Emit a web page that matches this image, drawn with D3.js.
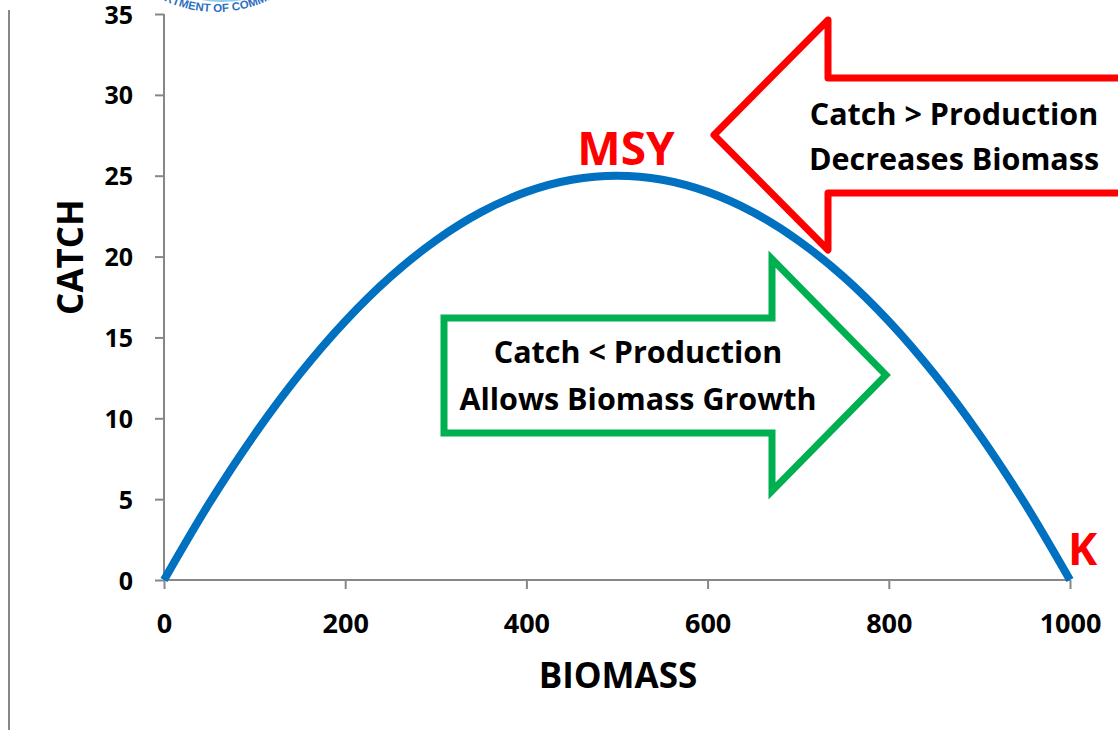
<!DOCTYPE html>
<html>
<head>
<meta charset="utf-8">
<script src="https://cdn.jsdelivr.net/npm/d3@7"></script>
<style>
  html, body { margin: 0; padding: 0; background: #fff; }
  svg { display: block; }
  text { font-family: "Open Sans", "Noto Sans", sans-serif; font-weight: 700; }
</style>
</head>
<body>
<svg id="chart" width="1118" height="730"></svg>
<script>
// Surplus production curve: catch versus biomass
const biomass = [0, 50, 100, 150, 200, 250, 300, 350, 400, 450, 500,
                 550, 600, 650, 700, 750, 800, 850, 900, 950, 1000];
const catchValues = [0, 4.75, 9, 12.75, 16, 18.75, 21, 22.75, 24, 24.75, 25,
                     24.75, 24, 22.75, 21, 18.75, 16, 12.75, 9, 4.75, 0];
const xTicks = [0, 200, 400, 600, 800, 1000];
const yTicks = [0, 5, 10, 15, 20, 25, 30, 35];
const msyPoint = { biomass: 500, catch: 25 };
const kPoint = { biomass: 1000, catch: 0 };

const svg = d3.select("#chart");
const axisColor = "#878787";

const x = d3.scaleLinear().domain([0, 1000]).range([164, 1070]);
const y = d3.scaleLinear().domain([0, 35]).range([580, 14]);

// page rule on the left
svg.append("line")
  .attr("x1", 9).attr("x2", 9).attr("y1", 10).attr("y2", 730)
  .attr("stroke", axisColor).attr("stroke-width", 2);

// seal lettering peeking in at the top edge
const sealCx = 216, sealCy = -110, sealR = 122;
const seal = svg.append("g");
seal.append("circle")
  .attr("cx", sealCx + 6).attr("cy", sealCy).attr("r", sealR - 10)
  .attr("fill", "#8fd0f2");
const sealPath = d3.path();
sealPath.arc(sealCx, sealCy, sealR, Math.PI * 0.9, Math.PI * 0.1, true);
seal.append("path").attr("id", "sealArc").attr("d", sealPath.toString()).attr("fill", "none");
seal.append("text")
  .attr("fill", "#2f6fbf")
  .style("font-family", "'Liberation Sans', sans-serif")
  .style("font-weight", "700")
  .style("font-size", "11.5px")
  .append("textPath")
  .attr("href", "#sealArc")
  .attr("startOffset", "50%")
  .attr("text-anchor", "middle")
  .text("DEPARTMENT OF COMMERCE");

// y axis
const yAxis = svg.append("g")
  .attr("transform", `translate(${x(0)},0)`)
  .call(d3.axisLeft(y).tickValues(yTicks).tickSize(9).tickPadding(22).tickFormat(d3.format("d")));
yAxis.select(".domain").attr("stroke", axisColor).attr("stroke-width", 2)
  .attr("d", `M0,${y(35)}V${y(0)}`);
yAxis.selectAll(".tick line").attr("stroke", axisColor).attr("stroke-width", 2);
yAxis.selectAll(".tick text").attr("fill", "#000")
  .style("font-size", "25px").style("font-family", "'Open Sans', sans-serif").style("font-weight", "700")
  .attr("dy", "0.36em");

// x axis
const xAxis = svg.append("g")
  .attr("transform", `translate(0,${y(0)})`)
  .call(d3.axisBottom(x).tickValues(xTicks).tickSize(9).tickFormat(d3.format("d")));
xAxis.select(".domain").attr("stroke", axisColor).attr("stroke-width", 2)
  .attr("d", `M${x(0)},0H${x(1000)}`);
xAxis.selectAll(".tick line").attr("stroke", axisColor).attr("stroke-width", 2);
xAxis.selectAll(".tick text").attr("fill", "#000")
  .attr("y", 53).attr("dy", 0)
  .style("font-size", "27px").style("font-family", "'Open Sans', sans-serif").style("font-weight", "700");

// axis titles
svg.append("text")
  .attr("x", 618).attr("y", 688)
  .attr("text-anchor", "middle")
  .style("font-size", "35px")
  .text("BIOMASS");
svg.append("text")
  .attr("transform", `translate(83,257) rotate(-90)`)
  .attr("text-anchor", "middle")
  .style("font-size", "35px")
  .text("CATCH");

// production curve
const line = d3.line()
  .x((d, i) => x(biomass[i]))
  .y(d => y(d))
  .curve(d3.curveCatmullRom);
svg.append("path")
  .datum(catchValues)
  .attr("d", line)
  .attr("fill", "none")
  .attr("stroke", "#0070C0")
  .attr("stroke-width", 8);

// arrow shapes
function arrowShape(pts) {
  return "M" + pts.map(p => p.join(",")).join("L") + "Z";
}
// left-pointing: catch above production
svg.append("path")
  .attr("d", arrowShape([[1125, 78], [828, 78], [828, 20], [714, 135], [828, 250], [828, 193], [1125, 193]]))
  .attr("fill", "#fff").attr("stroke", "#FF0000").attr("stroke-width", 7)
  .attr("stroke-linejoin", "round");
// right-pointing: catch below production
svg.append("path")
  .attr("d", arrowShape([[444, 318], [772, 318], [772, 259], [886, 375], [772, 491], [772, 433], [444, 433]]))
  .attr("fill", "#fff").attr("stroke", "#00B050").attr("stroke-width", 7)
  .attr("stroke-linejoin", "miter");

const arrowText = [
  { x: 954, y: 125, t: "Catch > Production" },
  { x: 954, y: 170, t: "Decreases Biomass" },
  { x: 638, y: 363, t: "Catch < Production" },
  { x: 638, y: 410, t: "Allows Biomass Growth" }
];
svg.selectAll("text.arrowLabel")
  .data(arrowText)
  .join("text")
  .attr("class", "arrowLabel")
  .attr("x", d => d.x).attr("y", d => d.y)
  .attr("text-anchor", "middle")
  .style("font-size", "30.5px")
  .attr("fill", "#000")
  .text(d => d.t);

// point labels
svg.append("text")
  .attr("x", x(msyPoint.biomass) + 9).attr("y", y(msyPoint.catch) - 11)
  .attr("text-anchor", "middle")
  .attr("fill", "#FF0000")
  .style("font-size", "46px")
  .text("MSY");
svg.append("text")
  .attr("x", x(kPoint.biomass) - 2).attr("y", y(kPoint.catch) - 15)
  .attr("text-anchor", "start")
  .attr("fill", "#FF0000")
  .style("font-size", "44px")
  .text("K");
</script>
</body>
</html>
